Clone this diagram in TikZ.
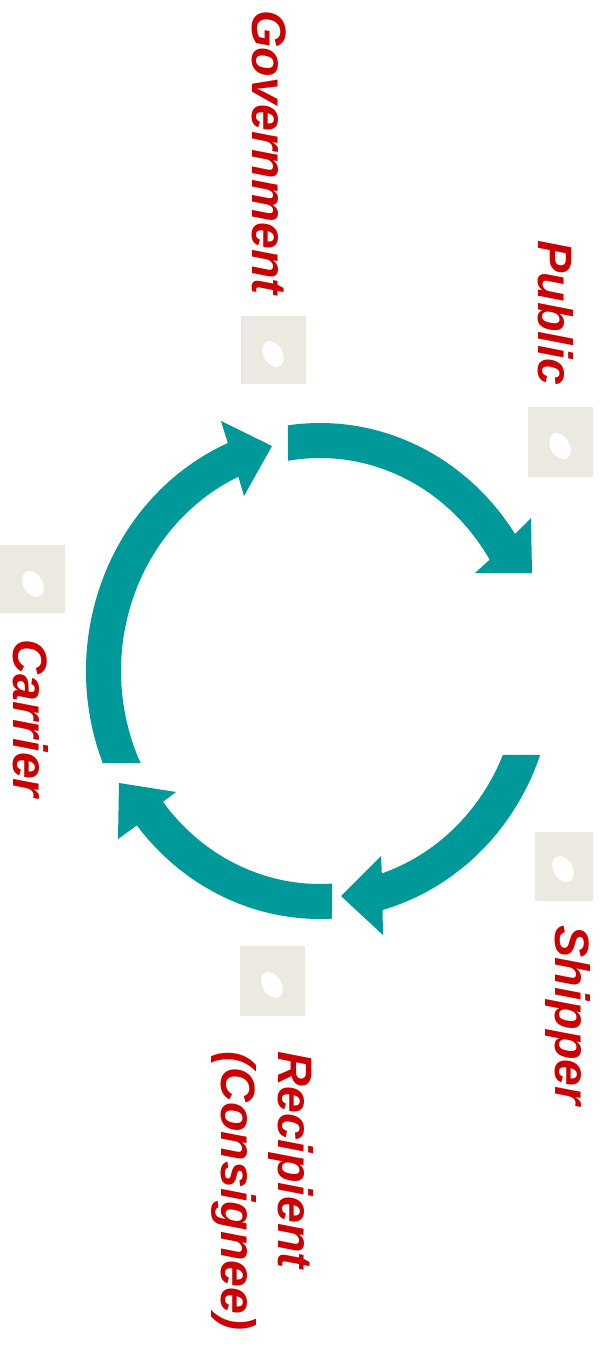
\documentclass[tikz,border=0pt]{standalone}
\usepackage{fontspec}
\setmainfont{Liberation Sans}
\usetikzlibrary{positioning}
\definecolor{cyteal}{RGB}{0,153,153}
\definecolor{cyred}{RGB}{204,0,0}
\definecolor{cybeige}{RGB}{236,234,224}

\begin{document}
\begin{tikzpicture}[
  x=0.02cm, y=0.02cm,
  band/.style={fill=cyteal},
  icon/.style={fill=cybeige, inner sep=0, minimum width=1.3cm, minimum height=1.38cm},
  role/.style={font=\fontsize{27.5}{32.6}\selectfont\bfseries\itshape, text=cyred,
               rotate=-90, inner sep=0, anchor=base west, align=left}
]
\useasboundingbox (-320,-676) rectangle (281,671);

% four curved arrows round the cycle
\fill[band] (97.9:234 and 248) arc[start angle=97.9, end angle=33.5, x radius=234, y radius=248]
  -- (211,153) -- (212,98) -- (155,98)
  -- (31.5:199 and 213) arc[start angle=31.5, end angle=99.25, x radius=199, y radius=213] -- cycle;
\fill[band] (-19.8:234 and 248) arc[start angle=-19.8, end angle=-74.5, x radius=234, y radius=248]
  -- (63,-264) -- (21,-225) -- (61,-185)
  -- (-71.9:199 and 213) arc[start angle=-71.9, end angle=-23.2, x radius=199, y radius=213] -- cycle;
\fill[band] (-87.06:234 and 248) arc[start angle=-87.06, end angle=-141.5, x radius=234, y radius=248]
  -- (-202,-168) -- (-201,-112) -- (-144,-121)
  -- (-142.1:199 and 213) arc[start angle=-142.1, end angle=-86.54, x radius=199, y radius=213] -- cycle;
\fill[band] (201.8:234 and 248) arc[start angle=201.8, end angle=113.2, x radius=234, y radius=248]
  -- (-99,250) -- (-48,225) -- (-76,175)
  -- (114.2:199 and 213) arc[start angle=114.2, end angle=205.6, x radius=199, y radius=213] -- cycle;

% icons
\node[icon] (govicon) at (-46.5,321) {};
\node[icon, minimum height=1.4cm] (pubicon) at (240.5,229) {};
\node[icon, minimum width=1.16cm] (shipicon) at (244,-195.5) {};
\node[icon, minimum height=1.4cm] (recicon) at (-47.5,-310) {};
\node[icon] (caricon) at (-287.5,92) {};
\foreach \x/\y in {-47/317, 240/225, 243/-198, -48/-314, -287/87}
  \fill[white, rotate around={-60:(\x,\y)}] (\x,\y) ellipse[x radius=14, y radius=9.5];

% labels
\node[role] (gov) at (-67,661) {Government};
\node[role] (pub) at (219,431) {Public};
\node[role] (ship) at (236,-254) {Shipper};
\node[role, anchor=north west] (rec) at (-6,-380) {Recipient\\(Consignee)};
\node[role] (car) at (-306,32) {Carrier};
\end{tikzpicture}
\end{document}
